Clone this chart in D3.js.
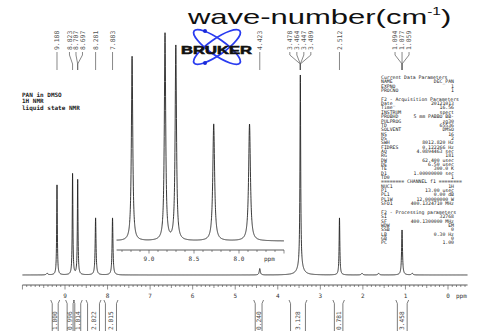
<!DOCTYPE html>
<html><head><meta charset="utf-8">
<script src="https://cdn.jsdelivr.net/npm/d3@7"></script>
<style>html,body{margin:0;padding:0;background:#fff;}svg{display:block}</style>
</head><body><svg id="c" width="479" height="334"></svg>
<script>
// ---------- data ----------
const peakPpm    = [9.42, 9.188, 8.822, 8.702, 8.281, 7.883, 4.423, 3.470, 3.470, 2.550, 2.02, 1.63, 1.080, 0.84];
const peakHeight = [0.8,  45.0,  50.5,  47.5,  28.5,  28.5,  3.2,   96.0,  4.0,   28.5,  0.8,  0.8,  22.5,  0.8];
const peakWidth  = [0.04, 0.018, 0.018, 0.018, 0.024, 0.024, 0.03,  0.02,  0.15,  0.02,  0.04, 0.04, 0.025, 0.04];

const labelText = ["9.188","8.823","8.707","8.697","8.281","7.883","4.423","3.478","3.464","3.447","3.409","2.512","1.094","1.077","1.059"];
const labelPpm  = [9.188, 8.822, 8.702, 8.702, 8.281, 7.883, 4.423, 3.470, 3.470, 3.470, 3.470, 2.550, 1.080, 1.080, 1.080];

const integralFrom  = [9.30, 8.95, 8.77, 8.47, 8.05, 4.53, 3.70, 2.67, 1.19];
const integralTo    = [9.16, 8.81, 8.63, 8.19, 7.79, 4.37, 3.35, 2.47, 0.96];
const integralValue = ["1.000","0.996","1.014","2.022","2.015","0.240","3.128","0.781","3.458"];

const mainTicks  = [9, 8, 7, 6, 5, 4, 3, 2, 1, 0];
const insetTicks = [9.0, 8.5, 8.0];

const sampleLines = ["PAN in DMSO", "1H NMR", "liquid state NMR"];

const paramKeys = ["Current Data Parameters","NAME","EXPNO","PROCNO","","F2 - Acquisition Parameters","Date_","Time","INSTRUM","PROBHD","PULPROG","TD","SOLVENT","NS","DS","SWH","FIDRES","AQ","RG","DW","DE","TE","D1","TD0","======== CHANNEL f1 ========","NUC1","P1","PL1","PL1W","SFO1","","F2 - Processing parameters","SI","SF","WDW","SSB","LB","GB","PC"];
const paramVals = ["","DEC_PAN","1","1","","","20121013","16.56","spect","5 mm PABBO BB-","zg30","65536","DMSO","16","2","8012.820 Hz","0.122266 Hz","4.0894463 sec","181","62.400 usec","6.50 usec","300.0 K","1.00000000 sec","1","","1H","13.00 usec","0.00 dB","12.00000000 W","400.1324710 MHz","","","32768","400.1300000 MHz","EM","0","0.30 Hz","0","1.00"];

// ---------- drawing ----------
const svg = d3.select("#c");
const mono = "'DejaVu Sans Mono', 'Liberation Mono', monospace";

const x = d3.scaleLinear().domain([9, 0]).range([65, 448]);
const y = d3.scaleLinear().domain([0, 100]).range([275, 75]);
const xi = d3.scaleLinear().domain([9, 8]).range([149, 239]);
const yi = d3.scaleLinear().domain([0, 50.5]).range([241, 34]);

function intensity(p) {
  let s = 0;
  for (let i = 0; i < peakPpm.length; i++) {
    const d = (p - peakPpm[i]) / (peakWidth[i] / 2);
    s += peakHeight[i] / (1 + d * d);
  }
  return s;
}
function grid(a, b, step) {
  const g = d3.range(a, b, -step).concat(peakPpm.filter(p => p <= a && p >= b));
  g.sort((m, n) => n - m);
  return g.map(p => ({p, v: intensity(p)}));
}

// main spectrum
svg.append("path")
  .attr("d", d3.line().x(d => x(d.p)).y(d => y(d.v))(grid(10.0, -0.46, 0.002)))
  .attr("fill", "none").attr("stroke", "#222").attr("stroke-width", 0.9);

// main axis
const ax = svg.append("g");
ax.append("line").attr("x1", x(10)).attr("x2", x(-0.46)).attr("y1", 285).attr("y2", 285)
  .attr("stroke", "#333").attr("stroke-width", 0.8);
const minor = d3.range(100, -5, -1).map(v => v / 10);
ax.selectAll(".mt").data(minor).join("line")
  .attr("x1", d => x(d)).attr("x2", d => x(d))
  .attr("y1", 285).attr("y2", d => Math.abs(d - Math.round(d)) < 1e-6 ? 289.5 : (Math.abs(d * 2 - Math.round(d * 2)) < 1e-6 ? 288 : 287))
  .attr("stroke", "#444").attr("stroke-width", 0.6);
ax.selectAll(".tl").data(mainTicks).join("text")
  .attr("x", d => x(d)).attr("y", 298).attr("text-anchor", "middle")
  .attr("font-family", mono).attr("font-size", 6).attr("fill", "#333").text(d => d);
ax.append("text").attr("x", 456).attr("y", 298).attr("font-family", mono).attr("font-size", 6)
  .attr("fill", "#333").text("ppm");

// inset spectrum
svg.append("path")
  .attr("d", d3.line().x(d => xi(d.p)).y(d => yi(d.v))(grid(9.36, 7.50, 0.001)))
  .attr("fill", "none").attr("stroke", "#222").attr("stroke-width", 0.9);
const ia = svg.append("g");
ia.append("line").attr("x1", xi(9.36)).attr("x2", xi(7.5)).attr("y1", 250).attr("y2", 250)
  .attr("stroke", "#333").attr("stroke-width", 0.8);
ia.selectAll(".it").data(d3.range(93, 74, -1).map(v => v / 10)).join("line")
  .attr("x1", d => xi(d)).attr("x2", d => xi(d)).attr("y1", 250)
  .attr("y2", d => Math.abs(d * 2 - Math.round(d * 2)) < 1e-6 ? 253.5 : 252)
  .attr("stroke", "#444").attr("stroke-width", 0.6);
ia.selectAll(".itl").data(insetTicks).join("text")
  .attr("x", d => xi(d)).attr("y", 261).attr("text-anchor", "middle")
  .attr("font-family", mono).attr("font-size", 6).attr("fill", "#333").text(d => d.toFixed(1));
ia.append("text").attr("x", 264).attr("y", 261).attr("font-family", mono).attr("font-size", 6)
  .attr("fill", "#333").text("ppm");

// peak labels with leaders
const targets = labelPpm.map(p => x(p));
const lx = targets.slice();
const groups = d3.group(d3.range(labelPpm.length), i => labelPpm[i]);
for (const [, idx] of groups) {
  idx.forEach((i, k) => { lx[i] = targets[i] + (k - (idx.length - 1) / 2) * 7; });
}
for (let it = 0; it < 200; it++) {
  for (let i = 0; i < lx.length - 1; i++) {
    const gap = lx[i + 1] - lx[i];
    if (gap < 6.5) { const m = (6.5 - gap) / 2; lx[i] -= m; lx[i + 1] += m; }
  }
}
const lab = svg.append("g");
lab.selectAll("path").data(d3.range(labelText.length)).join("path")
  .attr("d", i => `M${lx[i]},52 L${lx[i]},55 L${targets[i]},64 L${targets[i]},70`)
  .attr("fill", "none").attr("stroke", "#555").attr("stroke-width", 0.7);
lab.selectAll("text").data(d3.range(labelText.length)).join("text")
  .attr("transform", i => `translate(${lx[i]},50) rotate(-90)`)
  .attr("dy", "0.35em").attr("font-family", mono).attr("font-size", 6.4).attr("fill", "#555")
  .text(i => labelText[i]);

// integrals
const ig = svg.append("g");
integralFrom.forEach((f, i) => {
  const x1 = x(f), x2 = x(integralTo[i]);
  ig.append("path").attr("d", `M${x1 - 1.5},300 L${x1},303.5 L${x1},331 M${x2 + 1.5},300 L${x2},303.5 L${x2},331`)
    .attr("fill", "none").attr("stroke", "#444").attr("stroke-width", 0.7);
  ig.append("text").attr("transform", `translate(${(x1 + x2) / 2},330) rotate(-90)`)
    .attr("dy", "0.35em").attr("font-family", mono).attr("font-size", 6.2).attr("fill", "#444")
    .text(integralValue[i]);
});

// sample text
svg.selectAll(".st").data(sampleLines).join("text")
  .attr("x", 22).attr("y", (d, i) => 97 + i * 6.3)
  .attr("font-family", mono).attr("font-size", 6).attr("font-weight", "bold").attr("fill", "#222")
  .text(d => d);

// parameter block
const pb = svg.append("g");
paramKeys.forEach((k, i) => {
  const yy = 79 + i * 4.35;
  pb.append("text").attr("x", 381).attr("y", yy).attr("font-family", mono).attr("font-size", 4.8)
    .attr("fill", "#222").attr("xml:space", "preserve").text(k);
  if (paramVals[i]) pb.append("text").attr("x", 454).attr("y", yy).attr("text-anchor", "end")
    .attr("font-family", mono).attr("font-size", 4.8).attr("fill", "#222").text(paramVals[i]);
});

// Bruker logo
const logo = svg.append("g").attr("transform", "translate(217,47)");
logo.append("ellipse").attr("rx", 28).attr("ry", 8).attr("transform", "rotate(35)")
  .attr("fill", "none").attr("stroke", "#2a3cf0").attr("stroke-width", 1.8);
logo.append("ellipse").attr("rx", 28).attr("ry", 8).attr("transform", "rotate(-35)")
  .attr("fill", "none").attr("stroke", "#2a3cf0").attr("stroke-width", 1.8);
logo.append("circle").attr("cx", -12).attr("cy", -16).attr("r", 2).attr("fill", "#1a2ad8");
logo.append("circle").attr("cx", -12).attr("cy", 16).attr("r", 2).attr("fill", "#1a2ad8");
const bk = svg.append("text").attr("font-family", "'Liberation Sans', Arial, sans-serif").attr("font-weight", "bold")
  .attr("font-size", 11.5).attr("fill", "#111").attr("stroke", "#111").attr("stroke-width", 0.6)
  .text("BRUKER");
const bkw = bk.node().getBBox().width;
bk.attr("transform", `translate(181,53.5) scale(${72 / bkw},1)`);

// title
const tg = svg.append("g");
const tt = tg.append("text").attr("font-family", "'Liberation Sans', Arial, sans-serif")
  .attr("font-size", 20).attr("fill", "#111");
tt.append("tspan").text("wave-number(cm");
tt.append("tspan").attr("font-size", 10).attr("dy", -9).text("-1");
tt.append("tspan").attr("dy", 9).text(")");
const bw = tt.node().getBBox().width;
tg.attr("transform", `translate(188,23.5) scale(${265 / bw},1)`);
</script></body></html>
